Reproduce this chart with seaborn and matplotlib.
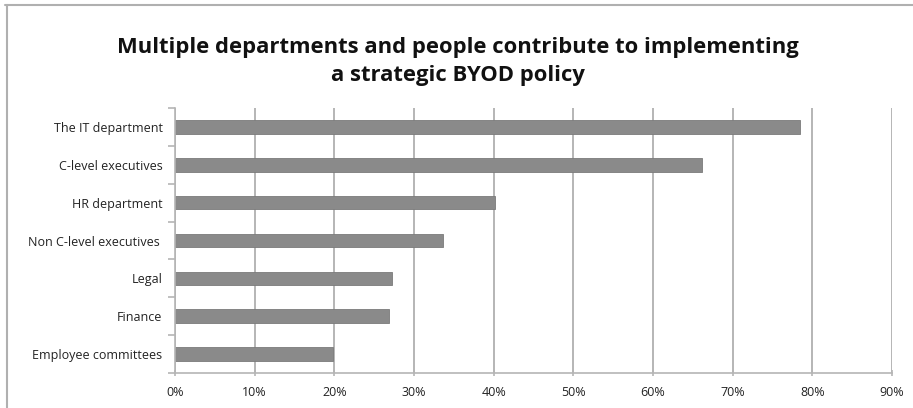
import matplotlib
matplotlib.use("Agg")
import matplotlib.pyplot as plt
import seaborn as sns
import pandas as pd
from matplotlib.lines import Line2D
from matplotlib.ticker import FixedLocator, PercentFormatter

categories = ["The IT department", "C-level executives", "HR department",
              "Non C-level executives ", "Legal", "Finance", "Employee committees"]
values = [78.4, 66.1, 40.2, 33.6, 27.3, 26.9, 19.8]
x_ticks = [0, 10, 20, 30, 40, 50, 60, 70, 80, 90]

sns.set_theme(style="white")
plt.rcParams['font.family'] = ['Open Sans', 'DejaVu Sans']

df = pd.DataFrame({"cat": categories, "val": values})

W, H = 913, 408
fig = plt.figure(figsize=(W / 100, H / 100), dpi=100)
ax = fig.add_axes([175 / W, 1 - 373 / H, (892 - 175) / W, (373 - 108) / H])

sns.barplot(data=df, x="val", y="cat", orient="h", color="#8a8a8a",
            saturation=1, width=0.36, edgecolor="#7a7a7a", linewidth=0.6, ax=ax)

ax.set_xlim(0, 90)
ax.set_ylim(6.5, -0.5)
ax.xaxis.set_major_locator(FixedLocator(x_ticks))
ax.xaxis.set_major_formatter(PercentFormatter(decimals=0))
ax.grid(axis="x", color="#b5b5b5", linewidth=1.4)
ax.grid(axis="y", visible=False)
ax.set_axisbelow(True)
ax.set_xlabel("")
ax.set_ylabel("")

for s in ["top", "right"]:
    ax.spines[s].set_visible(False)
for s in ["left", "bottom"]:
    ax.spines[s].set_visible(True)
    ax.spines[s].set_color("#b5b5b5")
    ax.spines[s].set_linewidth(1.2)

# y ticks: labels at centers, tick marks at boundaries
ax.set_yticks(range(len(categories)))
ax.set_yticklabels(categories)
ax.set_yticks([i - 0.5 for i in range(len(categories) + 1)], minor=True)
ax.tick_params(axis="y", which="major", length=0, pad=9, labelsize=9, labelcolor="#222222")
ax.tick_params(axis="y", which="minor", left=True, length=5, width=1.2, color="#b5b5b5", direction="out")
ax.tick_params(axis="x", which="major", bottom=True, length=5, width=1.2, color="#b5b5b5",
               direction="inout", pad=7, labelsize=9, labelcolor="#222222")

fig.text(0.502, 1 - 47 / H, "Multiple departments and people contribute to implementing",
         ha="center", va="center", fontsize=15.8, fontweight="bold", color="#111111")
fig.text(0.502, 1 - 76 / H, "a strategic BYOD policy",
         ha="center", va="center", fontsize=15.8, fontweight="bold", color="#111111")

# chart border (top and left visible)
fig.add_artist(Line2D([5 / W, 1], [1 - 5 / H, 1 - 5 / H], transform=fig.transFigure,
                      color="#b0b0b0", linewidth=1.5))
fig.add_artist(Line2D([7 / W, 7 / W], [0, 1 - 5 / H], transform=fig.transFigure,
                      color="#b0b0b0", linewidth=1.5))

fig.savefig("out.png", dpi=100, facecolor="white")
